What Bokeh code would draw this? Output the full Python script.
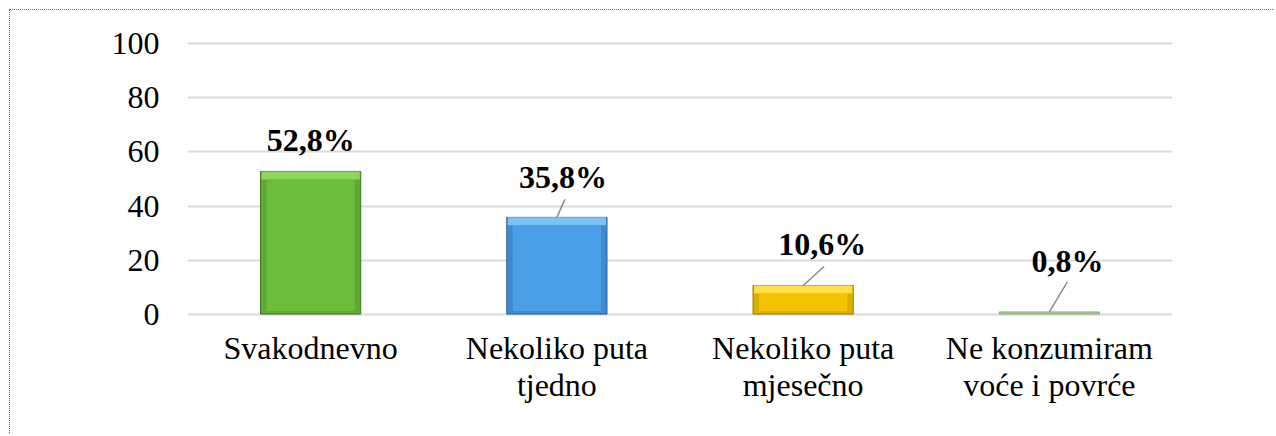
from bokeh.plotting import figure
from bokeh.models import Range1d, FixedTicker, ColumnDataSource
from bokeh.core.properties import value
from bokeh.embed import file_html
from bokeh.resources import INLINE

# ---- data ----
categories = ["Svakodnevno", "Nekoliko puta\ntjedno", "Nekoliko puta\nmjesečno", "Ne konzumiram\nvoće i povrće"]
values = [52.8, 35.8, 10.6, 0.8]
value_labels = ["52,8%", "35,8%", "10,6%", "0,8%"]
y_ticks = [0, 20, 40, 60, 80, 100]

# ---- styles ----
bar_colors = ["#6cbd3b", "#4b9fe6", "#f4c300", "#a8c79a"]
bar_tops = ["#8fd65c", "#7ec3f6", "#ffdf4a", "#a8c79a"]
bar_sides = ["#5ea833", "#3f8bd2", "#dcae00", "#a8c79a"]
bar_edges = ["#3f7a20", "#2a62a0", "#a07e00", "#8fb07f"]
label_dx = [0, 6, 19, 18]          # px
label_dy = [-31, -40, -41, -51]    # px
leader_px = [None, (8, 18), (21, 19), (18, 30)]
FONT = "Liberation Serif"

x_pos = [i + 0.5 for i in range(len(categories))]

W, H = 1264, 424
FW, FH = 985, 281
MBL, MBT = 177, 28
BAR_W = 0.407
p = figure(width=W, height=H, output_backend="svg", toolbar_location=None,
           x_range=Range1d(0, 4), y_range=Range1d(-2, 102),
           min_border_left=MBL, min_border_right=W - MBL - FW,
           min_border_top=MBT, min_border_bottom=H - MBT - FH)
p.styles = {"border-top": "1px dotted #666666", "border-left": "1px dotted #666666",
            "margin-left": "9px", "margin-top": "9px"}
p.outline_line_color = None
p.background_fill_color = "white"
p.border_fill_color = "white"

px_per_x = FW / 4.0
px_per_y = FH / 104.0

src = ColumnDataSource(dict(x=x_pos, top=values, color=bar_colors, side=bar_sides, edge=bar_edges,
                            lab=value_labels, dx=label_dx, dy=label_dy))

# grid
p.xgrid.grid_line_color = None
p.ygrid.grid_line_color = "#d9d9d9"
p.ygrid.grid_line_width = 2
p.yaxis.ticker = FixedTicker(ticks=y_ticks)

# outer bar (side shading)
p.vbar(x="x", top="top", bottom=0, width=BAR_W, fill_color="side", line_color="edge",
       line_width=1, source=src)

# bevel: light top strip and main face, for bars tall enough
bx, btop, bstrip_bot, bface_top, bcol, bt = [], [], [], [], [], []
for i, v in enumerate(values):
    if v * px_per_y < 20:
        continue
    bx.append(x_pos[i]); btop.append(v)
    bstrip_bot.append(v - 8 / px_per_y)
    bface_top.append(v - 8 / px_per_y)
    bcol.append(bar_colors[i]); bt.append(bar_tops[i])
p.vbar(x=bx, top=btop, bottom=bstrip_bot, width=BAR_W - 2 / px_per_x, fill_color=bt, line_color=None)
p.vbar(x=bx, top=bface_top, bottom=[3 / px_per_y] * len(bx), width=BAR_W - 12 / px_per_x,
       fill_color=bcol, line_color=None)

# leader lines
x0, y0, x1, y1 = [], [], [], []
for i, lp in enumerate(leader_px):
    if lp is None:
        continue
    x0.append(x_pos[i]); y0.append(values[i])
    x1.append(x_pos[i] + lp[0] / px_per_x); y1.append(values[i] + lp[1] / px_per_y)
p.segment(x0=x0, y0=y0, x1=x1, y1=y1, line_color="#8c8c8c", line_width=1.5)

p.text(x="x", y="top", text="lab", x_offset="dx", y_offset="dy", source=src,
       text_font=value(FONT), text_font_size="32px", text_font_style="bold",
       text_align="center", text_baseline="alphabetic", text_color="black")

# y axis
p.yaxis.axis_line_color = None
p.yaxis.major_tick_line_color = None
p.yaxis.minor_tick_line_color = None
p.yaxis.major_label_standoff = 22
p.yaxis.major_label_text_font = FONT
p.yaxis.major_label_text_font_size = "32px"
p.yaxis.major_label_text_color = "black"

# x axis
p.xaxis.ticker = FixedTicker(ticks=x_pos)
p.xaxis.major_label_overrides = {x: c for x, c in zip(x_pos, categories)}
p.xaxis.axis_line_color = None
p.xaxis.major_tick_line_color = None
p.xaxis.minor_tick_line_color = None
p.xaxis.major_label_standoff = 4
p.xaxis.major_label_text_font = FONT
p.xaxis.major_label_text_font_size = "32px"
p.xaxis.major_label_text_line_height = 1.05
p.xaxis.major_label_text_color = "black"

open("out.html", "w").write(file_html(p, INLINE))
